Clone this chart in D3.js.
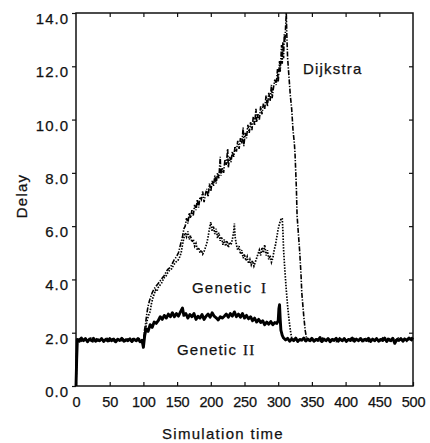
<!DOCTYPE html>
<html lang="en">
<head>
<meta charset="UTF-8">
<title>Delay vs simulation time</title>
<style>
  body { margin: 0; background: #fff; }
  svg { display: block; }
  text { font-family: "Liberation Sans", Arial, Helvetica, sans-serif; fill: #111; stroke: #111; stroke-width: 0.25px; }
  .roman { font-family: "Liberation Serif", "Times New Roman", serif; }
</style>
</head>
<body>
<svg width="430" height="443"></svg>
<script src="https://d3js.org/d3.v7.min.js"></script>
<script>
// tick values
const xTicks = [0, 50, 100, 150, 200, 250, 300, 350, 400, 450, 500];
const yTicks = [0, 2, 4, 6, 8, 10, 12, 14];

// series: [simulation time, delay]
const dijkstra = [
  [0,0],[1,1.2],[2,1.72],[6,1.78],[10,1.68],[14,1.76],[18,1.7],[22,1.8],[26,1.69],[30,1.75],
  [34,1.67],[38,1.77],[42,1.71],[46,1.79],[50,1.68],[54,1.74],[58,1.7],[62,1.78],[66,1.67],[70,1.75],
  [74,1.71],[78,1.79],[82,1.68],[86,1.76],[90,1.7],[94,1.77],[98,1.66],[100,1.5],
  [101,2.0],[103,2.3],[105,2.7],[107,3.0],[109,3.2],[111,3.35],[113,3.5],[116,3.65],[119,3.75],
  [122,3.85],[125,3.95],[128,4.05],[131,4.15],[134,4.3],[137,4.4],[140,4.45],[143,4.6],[146,4.75],
  [149,4.85],[152,5.0],[155,5.3],[158,5.6],[160,5.9],[162,6.0],[164,6.3],[166,6.1],[168,6.5],
  [170,6.3],[172,6.6],[174,6.4],[176,6.8],[178,6.6],[180,7.0],[182,6.7],[184,7.1],[186,7.0],
  [188,7.3],[190,6.9],[192,7.2],[194,7.4],[196,7.1],[198,7.6],[200,7.3],[202,7.7],[204,7.5],
  [206,7.9],[208,7.6],[210,8.0],[212,7.8],[214,8.6],[215,7.9],[217,8.2],[219,8.0],[221,8.5],
  [223,8.3],[225,8.9],[226,8.2],[228,8.6],[230,8.4],[232,8.8],[234,8.6],[236,9.0],[238,8.8],
  [240,9.2],[242,8.9],[244,9.3],[246,9.1],[248,9.7],[249,9.0],[251,9.5],[253,9.3],[255,9.8],
  [257,9.5],[259,9.9],[261,9.6],[263,10.1],[265,9.8],[267,10.4],[268,9.9],[270,10.2],[272,10.0],
  [274,10.5],[276,10.2],[278,10.6],[280,10.4],[282,10.9],[284,10.5],[286,11.0],[288,10.7],
  [290,11.3],[291,10.8],[293,11.2],[295,11.5],[297,11.3],[299,11.9],[300,11.4],[302,12.2],
  [303,11.8],[305,12.8],[306,12.1],[307,12.9],[308,12.3],[309,13.2],[310,12.9],[311,13.5],[312,14.0],
  [313,13.0],[314,12.3],[316,11.6],[318,10.9],[320,10.4],[322,9.6],[324,9.1],[325,8.7],[327,7.4],
  [328,6.4],[330,5.7],[332,5.0],[334,4.1],[335,3.5],[337,2.9],[338,2.6],[340,2.1],[342,1.8],
  [346,1.72],[350,1.78],[354,1.68],[358,1.76],[362,1.7],[366,1.8],[370,1.69],[374,1.75],[378,1.71],
  [382,1.79],[386,1.67],[390,1.76],[394,1.7],[398,1.78],[402,1.68],[406,1.75],[410,1.71],[414,1.8],
  [418,1.69],[422,1.76],[426,1.7],[430,1.78],[434,1.67],[438,1.75],[442,1.71],[446,1.79],[450,1.68],
  [454,1.76],[458,1.7],[462,1.78],[466,1.69],[470,1.75],[474,1.71],[478,1.8],[482,1.68],[486,1.76],
  [490,1.72],[494,1.79],[498,1.7],[500,1.76]
];

const geneticI = [
  [0,0],[1,1.1],[2,1.7],[5,1.74],[9,1.67],[13,1.78],[17,1.71],[21,1.76],[25,1.66],[29,1.79],
  [33,1.7],[37,1.74],[41,1.68],[45,1.77],[49,1.7],[53,1.8],[57,1.67],[61,1.75],[65,1.7],[69,1.78],
  [73,1.68],[77,1.76],[81,1.71],[85,1.79],[89,1.67],[93,1.75],[97,1.7],[100,1.55],
  [101,1.9],[103,2.1],[105,2.4],[107,2.6],[110,2.8],[112,3.1],[114,3.3],[116,3.45],[118,3.6],
  [120,3.55],[122,3.7],[125,3.8],[128,3.9],[130,4.05],[133,4.1],[136,4.25],[139,4.35],[142,4.4],
  [145,4.55],[148,4.65],[151,4.7],[154,4.85],[156,5.0],[158,5.3],[160,5.55],[162,5.75],[164,5.6],
  [166,5.8],[168,5.5],[170,5.65],[172,5.4],[174,5.5],[176,5.25],[178,5.35],[180,5.1],[182,5.2],
  [184,5.0],[186,5.1],[188,4.95],[190,5.05],[192,5.2],[194,5.35],[196,5.6],[198,5.9],[200,6.15],
  [202,5.8],[204,6.0],[206,5.7],[208,5.9],[210,5.55],[212,5.75],[214,5.45],[216,5.6],[218,5.3],
  [220,5.5],[222,5.25],[224,5.45],[226,5.2],[228,5.4],[230,5.3],[232,5.5],[234,5.8],[235,6.1],
  [236,5.6],[238,5.3],[240,5.1],[242,5.25],[244,4.95],[246,5.1],[248,4.8],[250,4.95],[252,4.7],
  [254,4.85],[256,4.6],[258,4.75],[260,4.55],[262,4.7],[264,4.5],[266,4.65],[268,4.8],[270,4.95],
  [272,5.1],[274,4.9],[276,5.2],[278,5.0],[280,5.3],[282,4.9],[284,5.1],[286,4.75],[288,4.9],
  [290,4.65],[292,4.8],[294,5.1],[296,5.3],[298,5.6],[300,5.9],[302,6.1],[304,6.25],[306,6.3],
  [307,5.8],[308,5.1],[310,4.3],[312,3.6],[314,3.0],[316,2.5],[318,2.1],[320,1.8],[323,1.74],
  [327,1.79],[331,1.68],[335,1.76],[339,1.7],[343,1.78],[347,1.67],[351,1.75],[355,1.71],[359,1.79],
  [363,1.68],[367,1.76],[371,1.7],[375,1.78],[379,1.69],[383,1.75],[387,1.71],[391,1.8],[395,1.68],
  [399,1.76],[403,1.7],[407,1.78],[411,1.67],[415,1.75],[419,1.71],[423,1.79],[427,1.68],[431,1.76],
  [435,1.7],[439,1.78],[443,1.69],[447,1.75],[451,1.71],[455,1.8],[459,1.68],[463,1.76],[467,1.7],
  [471,1.78],[475,1.67],[479,1.75],[483,1.71],[487,1.79],[491,1.68],[495,1.76],[500,1.78]
];

const geneticII = [
  [0,0],[1,1.0],[2,1.75],[5,1.68],[8,1.8],[11,1.7],[14,1.78],[17,1.66],[20,1.76],[23,1.7],
  [26,1.79],[29,1.68],[32,1.74],[35,1.7],[38,1.78],[41,1.67],[44,1.75],[47,1.69],[50,1.78],[53,1.7],
  [56,1.76],[59,1.66],[62,1.75],[65,1.71],[68,1.79],[71,1.68],[74,1.74],[77,1.7],[80,1.77],[83,1.67],
  [86,1.76],[89,1.7],[92,1.78],[95,1.66],[98,1.72],[100,1.45],[102,1.9],[104,2.15],[107,2.05],
  [110,2.3],[113,2.2],[116,2.4],[119,2.35],[122,2.45],[125,2.6],[128,2.5],[131,2.65],[134,2.55],
  [137,2.7],[140,2.6],[143,2.75],[146,2.6],[149,2.72],[152,2.62],[155,2.78],[158,2.93],[160,2.65],
  [163,2.72],[166,2.55],[169,2.68],[172,2.6],[175,2.72],[178,2.5],[181,2.62],[184,2.55],[187,2.68],
  [190,2.5],[193,2.62],[196,2.7],[199,2.58],[202,2.75],[205,2.62],[208,2.56],[211,2.48],[214,2.6],
  [217,2.55],[220,2.62],[223,2.7],[226,2.58],[229,2.72],[232,2.62],[235,2.78],[238,2.6],[241,2.7],
  [244,2.58],[247,2.72],[250,2.55],[253,2.65],[256,2.52],[259,2.6],[262,2.45],[265,2.55],[268,2.4],
  [271,2.5],[274,2.38],[277,2.45],[280,2.3],[283,2.4],[286,2.32],[289,2.42],[292,2.3],[295,2.38],
  [298,2.35],[300,2.45],[301,2.9],[302,3.05],[303,2.5],[304,2.1],[306,1.9],[308,1.8],[311,1.73],
  [314,1.79],[317,1.68],[320,1.76],[323,1.7],[326,1.8],[329,1.67],[332,1.75],[335,1.72],[338,1.8],
  [341,1.69],[344,1.76],[347,1.7],[350,1.79],[353,1.68],[356,1.75],[359,1.71],[362,1.82],[365,1.67],
  [368,1.76],[371,1.7],[374,1.78],[377,1.66],[380,1.75],[383,1.71],[386,1.79],[389,1.68],[392,1.76],
  [395,1.7],[398,1.78],[401,1.67],[404,1.75],[407,1.71],[410,1.8],[413,1.68],[416,1.76],[419,1.7],
  [422,1.78],[425,1.69],[428,1.75],[431,1.71],[434,1.79],[437,1.67],[440,1.76],[443,1.7],[446,1.78],
  [449,1.68],[452,1.75],[455,1.71],[458,1.8],[461,1.67],[464,1.76],[467,1.7],[470,1.79],[473,1.6],
  [476,1.74],[479,1.71],[482,1.78],[485,1.68],[488,1.76],[491,1.72],[494,1.8],[497,1.75],[500,1.82]
];

const svg = d3.select("svg");
const plotLeft = 76, plotRight = 413, plotTop = 13, plotBottom = 386;

const x = d3.scaleLinear().domain([0, 500]).range([plotLeft, plotRight]);
const y = d3.scaleLinear().domain([0, 14]).range([plotBottom, plotTop]);

// axes
const gx = svg.append("g").attr("transform", `translate(0,${plotBottom})`)
  .call(d3.axisBottom(x).tickValues(xTicks).tickSize(-4).tickPadding(11).tickFormat(d3.format("d")));
gx.selectAll("text").style("font-size", "14.5px").style("letter-spacing", "-0.2px");

const gy = svg.append("g").attr("transform", `translate(${plotLeft},0)`)
  .call(d3.axisLeft(y).tickValues(yTicks).tickSize(4).tickPadding(3).tickFormat(d3.format(".1f")));
gy.selectAll("text").style("font-size", "15px").style("letter-spacing", "1px").attr("dy", "0.7em");

svg.append("g").attr("transform", `translate(0,${plotTop})`)
  .call(d3.axisTop(x).tickValues(xTicks.slice(1, -1)).tickSize(-4).tickFormat(""));
svg.append("g").attr("transform", `translate(${plotRight},0)`)
  .call(d3.axisRight(y).tickValues(yTicks.slice(1, -1)).tickSize(-4).tickFormat(""));

svg.selectAll(".domain").remove();
svg.selectAll(".tick line").attr("stroke", "#111").attr("stroke-width", 1.2);

svg.append("rect")
  .attr("x", plotLeft).attr("y", plotTop)
  .attr("width", plotRight - plotLeft).attr("height", plotBottom - plotTop)
  .attr("fill", "none").attr("stroke", "#111").attr("stroke-width", 1.5);

// lines
const line = d3.line().x(d => x(d[0])).y(d => y(d[1]));

svg.append("path").datum(geneticII).attr("d", line)
  .attr("fill", "none").attr("stroke", "#000").attr("stroke-width", 2.9)
  .attr("stroke-linejoin", "round");

svg.append("path").datum(geneticI).attr("d", line)
  .attr("fill", "none").attr("stroke", "#000").attr("stroke-width", 1.7)
  .attr("stroke-dasharray", "1.5,1.4");

svg.append("path").datum(dijkstra).attr("d", line)
  .attr("fill", "none").attr("stroke", "#000").attr("stroke-width", 1.6)
  .attr("stroke-dasharray", "5,1.5,1.3,1.5");

// labels
const lbl = (tx, ty) => svg.append("text").attr("x", tx).attr("y", ty)
  .style("font-size", "15px").style("letter-spacing", "1.2px");

lbl(303, 74).text("Dijkstra");
const g1 = lbl(192, 293);
g1.append("tspan").text("Genetic");
g1.append("tspan").attr("class", "roman").attr("dx", 9).text("I");
const g2 = lbl(177, 355);
g2.append("tspan").text("Genetic");
g2.append("tspan").attr("class", "roman").attr("dx", 6).text("II");

svg.append("text").attr("x", 223).attr("y", 439).attr("text-anchor", "middle")
  .style("font-size", "15px").style("letter-spacing", "1.3px").text("Simulation time");

svg.append("text").attr("transform", "translate(27,196) rotate(-90)").attr("text-anchor", "middle")
  .style("font-size", "15px").style("letter-spacing", "1.2px").text("Delay");
</script>
</body>
</html>
